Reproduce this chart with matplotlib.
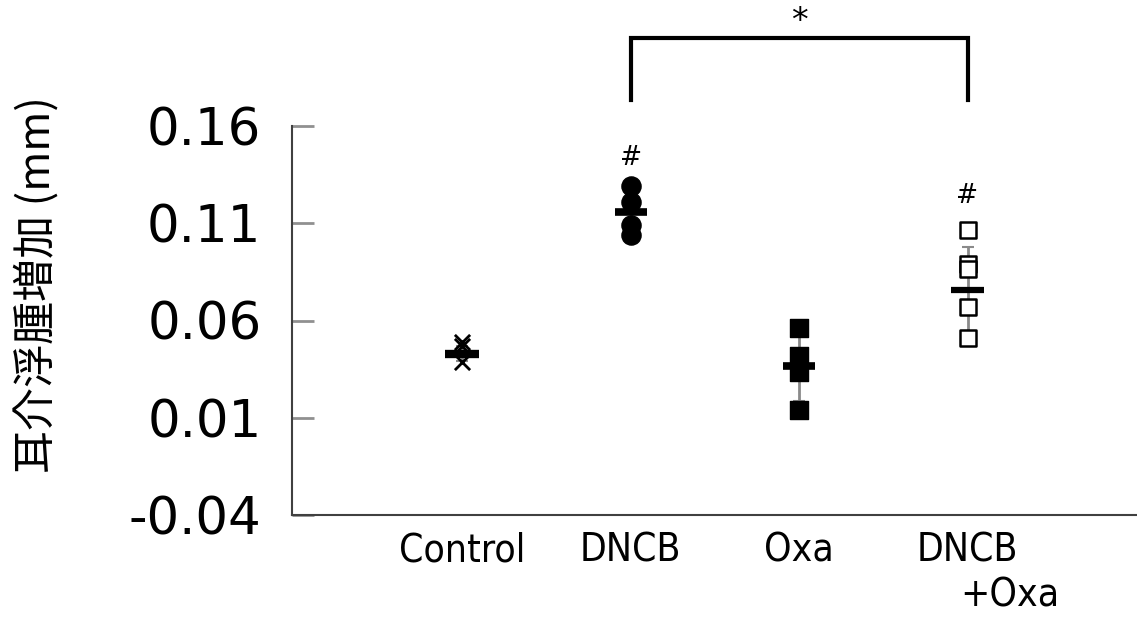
import numpy as np
import matplotlib
matplotlib.use("Agg")
import matplotlib.pyplot as plt
from matplotlib import font_manager

# ---------------- data ----------------
categories = ["Control", "DNCB", "Oxa", "DNCB"]
control_vals = [0.049, 0.047, 0.0385]
dncb_vals = [0.129, 0.121, 0.109, 0.104]
oxa_vals = [0.056, 0.042, 0.0335, 0.014]
dncb_oxa_vals = [0.1065, 0.089, 0.0865, 0.067, 0.051]
group_means = [0.043, 0.1158, 0.0365, 0.0757]
group_sd = [0.004, 0.011, 0.018, 0.022]
y_ticks = [-0.04, 0.01, 0.06, 0.11, 0.16]
y_ticklabels = ["-0.04", "0.01", "0.06", "0.11", "0.16"]
ylabel = "耳介浮腫増加 (mm)"

plt.rcParams['font.family'] = ['DejaVu Sans', 'Noto Sans CJK JP']

condensed = any(f.name == 'DejaVu Sans' and 'condensed' in str(f.stretch).lower()
                for f in font_manager.fontManager.ttflist)
xstretch = 'condensed' if condensed else 'normal'
xsize = 28 if condensed else 25

W, H = 1137, 618
fig = plt.figure(figsize=(W / 100, H / 100), dpi=100)
ax = fig.add_axes([292 / W, (H - 515) / H, (1136 - 292) / W, (515 - 126) / H])

positions = [1, 2, 3, 4]
ax.set_xlim(-0.01, 5.0)
ax.set_ylim(-0.04, 0.16)

# error bars (gray, behind markers)
ax.errorbar(positions, group_means, yerr=group_sd, fmt='none', ecolor='#8a8a8a',
            elinewidth=2, capsize=4, capthick=1.5, zorder=1)

# individual points
ax.scatter([1] * len(control_vals), control_vals, marker='x', s=120, color='black',
           linewidths=2, zorder=3)
ax.scatter([2] * len(dncb_vals), dncb_vals, marker='o', s=190, color='black', zorder=3)
ax.scatter([3] * len(oxa_vals), oxa_vals, marker='s', s=150, color='black', zorder=3)
ax.scatter([4] * len(dncb_oxa_vals), dncb_oxa_vals, marker='s', s=125, facecolor='white',
           edgecolor='black', linewidths=1.8, zorder=3)

# mean bars
ax.scatter(positions, group_means, marker='_', s=[600, 530, 530, 560],
           color='black', linewidths=[6, 5.5, 5.5, 4.5], zorder=4)

# axes styling
for s in ['top', 'right']:
    ax.spines[s].set_visible(False)
for s in ['left', 'bottom']:
    ax.spines[s].set_color('#404040')
    ax.spines[s].set_linewidth(1.5)

ax.set_yticks(y_ticks)
ax.set_yticklabels(y_ticklabels)
ax.tick_params(axis='y', direction='in', length=16, width=2, color='#909090',
               labelsize=37, pad=22)
ax.set_xticks(positions)
ax.set_xticklabels(categories, fontsize=xsize, fontstretch=xstretch)
ax.tick_params(axis='x', length=0, pad=12)

ax.text(4.25, -0.0812, "+Oxa", fontsize=xsize, fontstretch=xstretch, ha='center', va='center',
        transform=ax.transData, clip_on=False)

# y label
fig.text(38 / W, 1 - 285 / H, ylabel, rotation=90, ha='center', va='center',
         fontsize=31, family=['Noto Sans CJK JP', 'DejaVu Sans'])

# significance markers
ax.plot([2, 2, 4, 4], [0.1735, 0.2052, 0.2052, 0.1735], color='black', lw=3,
        solid_joinstyle='miter', clip_on=False)
ax.text(3, 0.2135, "*", fontsize=24, ha='center', va='center', clip_on=False)
ax.text(2.0, 0.1435, "#", fontsize=19, ha='center', va='center')
ax.text(4.0, 0.1240, "#", fontsize=19, ha='center', va='center')

fig.savefig("out.png", dpi=100)
